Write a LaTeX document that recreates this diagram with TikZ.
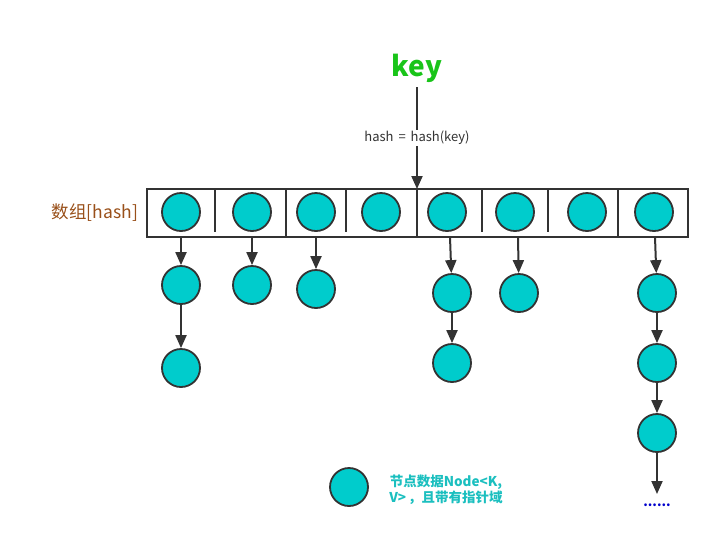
\documentclass[tikz,border=0pt]{standalone}
\usepackage{fontspec}
\setmainfont{Noto Sans CJK SC}
\usetikzlibrary{arrows.meta}
\definecolor{nodefill}{HTML}{00CCCC}
\definecolor{edge}{HTML}{333333}
\definecolor{keygreen}{HTML}{19C419}
\definecolor{brownlbl}{HTML}{99501A}
\definecolor{legendtxt}{HTML}{1BBFBF}
\definecolor{dotblue}{HTML}{0000CC}
\tikzset{
  bucket/.style={circle, draw=edge, line width=1.8pt, fill=nodefill, minimum size=38pt, inner sep=0pt},
  arr/.style={draw=edge, line width=2pt, -{Triangle[length=13pt,width=11pt]}},
  frame/.style={draw=edge, line width=1.8pt},
}
\begin{document}
\begin{tikzpicture}[x=1pt,y=-1pt]
\useasboundingbox (0,0) rectangle (723,550);
% title
\node[font=\bfseries\fontsize{28}{30}\selectfont, text=keygreen] (key) at (417,68) {key};
% array
\draw[frame] (147,189) rectangle (688,237);
\foreach \x in {215,346,482,548} \draw[frame] (\x,189) -- (\x,232);
\foreach \x in {286,417,618} \draw[frame] (\x,189) -- (\x,237);
\node[font=\fontsize{17.5}{20}\selectfont, text=brownlbl] (lbl) at (95,213) {数组[hash]};
% key arrow
\coordinate (kstart) at (417,87);
\coordinate (top) at (417,189);
\draw[arr] (kstart) -- (top);
\node[fill=white, inner sep=1pt, font=\fontsize{13}{15}\selectfont, text=edge] (hlbl) at (417,138) {hash\hspace{2pt} = \hspace{2pt}hash(key)};
% array circles
\node[bucket] (a1) at (181,212) {};
\node[bucket] (a2) at (252,212) {};
\node[bucket] (a3) at (316,212) {};
\node[bucket] (a4) at (381,212) {};
\node[bucket] (a5) at (447,212) {};
\node[bucket] (a6) at (515,212) {};
\node[bucket] (a7) at (587,212) {};
\node[bucket] (a8) at (654,212) {};
% array exits
\coordinate (s1) at (181,237);
\coordinate (s2) at (252,237);
\coordinate (s3) at (316,237);
\coordinate (s5) at (450,237);
\coordinate (s6) at (518,237);
\coordinate (s8) at (655,237);
% chains
\node[bucket] (b1) at (181,285) {};
\node[bucket] (c1) at (181,368) {};
\node[bucket] (b2) at (252,285) {};
\node[bucket] (b3) at (316,289) {};
\node[bucket] (b5) at (452,293) {};
\node[bucket] (c5) at (452,363) {};
\node[bucket] (b6) at (519,293) {};
\node[bucket] (b8) at (657,293) {};
\node[bucket] (c8) at (657,363) {};
\node[bucket] (d8) at (657,433) {};
\node[font=\bfseries\fontsize{13}{15}\selectfont, text=dotblue, inner sep=0pt] (dots) at (657,505) {......};
\coordinate (dtop) at (657,494);
\draw[arr] (s1) -- (b1);
\draw[arr] (b1) -- (c1);
\draw[arr] (s2) -- (b2);
\draw[arr] (s3) -- (b3);
\draw[arr] (s5) -- (b5);
\draw[arr] (b5) -- (c5);
\draw[arr] (s6) -- (b6);
\draw[arr] (s8) -- (b8);
\draw[arr] (b8) -- (c8);
\draw[arr] (c8) -- (d8);
\draw[arr] (d8) -- (dtop);
% legend
\node[bucket] (leg) at (349,487) {};
\node[font=\bfseries\fontsize{13.5}{16.5}\selectfont, text=legendtxt, align=center] (legtxt) at (446,490) {节点数据Node<K,\\V>\hspace{2pt}，且带有指针域};
\end{tikzpicture}
\end{document}
